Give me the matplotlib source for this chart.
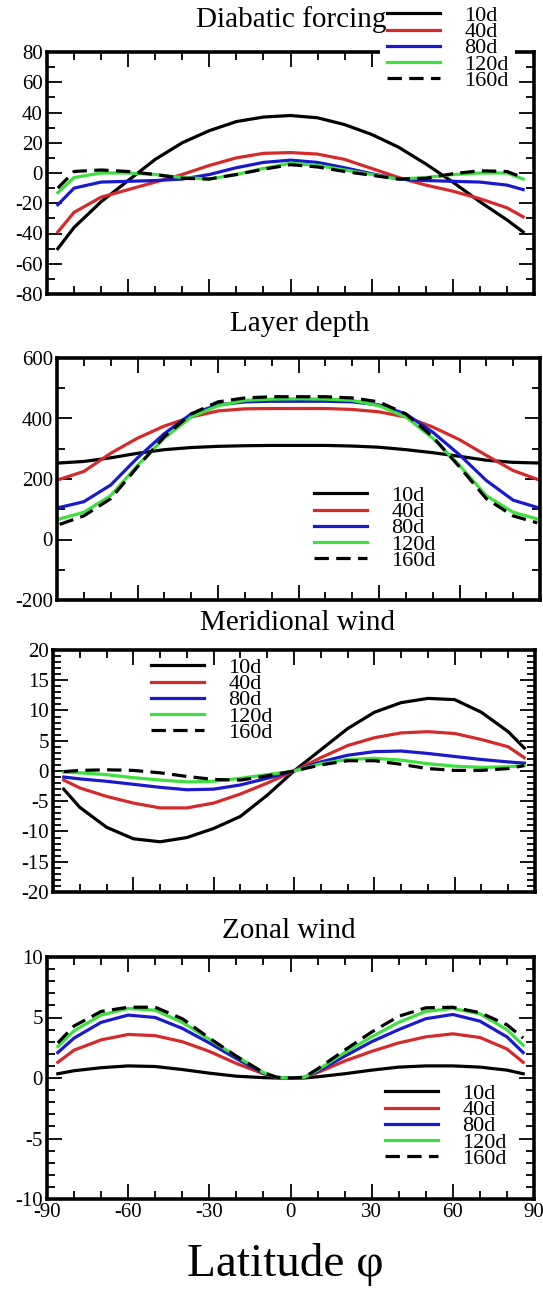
import numpy as np
import matplotlib
matplotlib.use("Agg")
import matplotlib.pyplot as plt
from matplotlib.ticker import MultipleLocator

plt.rcParams['font.family'] = ['Liberation Serif', 'DejaVu Serif']
plt.rcParams['axes.unicode_minus'] = False

W, H = 543, 1289

labels = ['10d', '40d', '80d', '120d', '160d']
colors = ['black', '#d42a2a', '#1a1acc', '#3ee03e', 'black']
styles = ['-', '-', '-', '-', '--']

lat = [-86, -80, -70, -60, -50, -40, -30, -20, -10, 0, 10, 20, 30, 40, 50, 60, 70, 80, 86]
lat_depth = [-89, -80, -70, -60, -50, -40, -30, -20, -10, 0, 10, 20, 30, 40, 50, 60, 70, 80, 89]
lat_zonal = [-86, -80, -70, -60, -50, -40, -30, -20, -10, -5, 0, 5, 10, 20, 30, 40, 50, 60, 70, 80, 86]

# Diabatic forcing
forcing_10 = [-50, -36, -19, -5, 9, 20, 28, 34, 37, 38, 36.5, 32, 25.5, 17, 6, -6, -19, -31, -39]
forcing_40 = [-39, -26, -16, -11, -6, -1, 5, 10, 13, 13.5, 12.5, 9, 3, -3, -8, -12, -17, -23, -29]
forcing_80 = [-21, -10, -6, -5.5, -5, -4, -1, 3.5, 7, 8.5, 7, 3.5, -0.5, -4, -5, -5.5, -6, -8, -11]
forcing_120 = [-13, -3, 0, 0, -1, -3, -4, -1, 3, 6.5, 5, 2, -1, -4, -3, -1, 0, 0, -4]
forcing_160 = [-10, 1, 2, 1, -1, -3.5, -4, -1, 2.5, 5.5, 4, 1, -1.5, -4, -3.5, -0.5, 1.5, 1, -3]

# Layer depth
depth_10 = [253, 258, 270, 285, 297, 304, 308, 310, 311, 311, 311, 309, 305, 297, 287, 275, 262, 255, 253]
depth_40 = [199, 225, 285, 335, 375, 405, 425, 432, 433, 433, 433, 430, 422, 405, 372, 330, 278, 228, 199]
depth_80 = [106, 125, 180, 270, 350, 415, 445, 455, 457, 457, 457, 455, 445, 415, 355, 280, 195, 130, 106]
depth_120 = [68, 90, 145, 245, 335, 405, 442, 460, 464, 465, 464, 460, 442, 405, 335, 245, 145, 90, 68]
depth_160 = [50, 78, 135, 240, 340, 415, 455, 468, 472, 472, 472, 468, 455, 415, 340, 240, 135, 78, 55]

# Meridional wind
merid_10 = [-3, -6, -9.3, -11.2, -11.7, -11, -9.5, -7.5, -4, 0, 3.5, 7, 9.7, 11.3, 12, 11.8, 9.7, 6.5, 3.8]
merid_40 = [-1.5, -2.8, -4.2, -5.3, -6.1, -6.1, -5.3, -3.8, -2, 0, 2.2, 4.2, 5.5, 6.3, 6.5, 6.2, 5.2, 4, 2.2]
merid_80 = [-1, -1.3, -1.7, -2.2, -2.7, -3.1, -3, -2.3, -1.2, 0, 1.5, 2.6, 3.2, 3.3, 2.9, 2.4, 1.9, 1.5, 1.3]
merid_120 = [-0.2, -0.3, -0.6, -1.1, -1.5, -1.8, -1.7, -1.2, -0.6, 0, 1.2, 1.9, 2.1, 1.8, 1.2, 0.8, 0.6, 0.7, 0.9]
merid_160 = [-0.1, 0.1, 0.2, 0.1, -0.3, -0.9, -1.4, -1.5, -0.8, 0, 1, 1.7, 1.7, 1.1, 0.4, 0.1, 0.1, 0.4, 0.9]

# Zonal wind
zonal_10 = [0.35, 0.6, 0.85, 1.0, 0.95, 0.7, 0.4, 0.15, 0.03, 0, 0, 0, 0.1, 0.35, 0.65, 0.9, 1.0, 1.0, 0.9, 0.65, 0.35]
zonal_40 = [1.3, 2.3, 3.15, 3.6, 3.5, 3.0, 2.2, 1.2, 0.35, 0.05, 0, 0.05, 0.45, 1.4, 2.2, 2.9, 3.4, 3.65, 3.35, 2.4, 1.3]
zonal_80 = [2.1, 3.3, 4.6, 5.2, 5.0, 4.1, 2.9, 1.6, 0.4, 0.05, 0, 0.05, 0.55, 1.8, 3.0, 4.0, 4.9, 5.25, 4.7, 3.4, 2.1]
zonal_120 = [2.6, 3.9, 5.2, 5.75, 5.6, 4.6, 3.2, 1.8, 0.45, 0.05, 0, 0.05, 0.65, 2.1, 3.4, 4.6, 5.5, 5.75, 5.3, 4.0, 2.7]
zonal_160 = [2.9, 4.3, 5.5, 5.85, 5.85, 4.9, 3.3, 1.8, 0.45, 0.05, 0, 0.05, 0.75, 2.3, 3.8, 5.1, 5.8, 5.85, 5.4, 4.4, 3.3]

panels = [
    dict(title='Diabatic forcing', x=lat, series=[forcing_10, forcing_40, forcing_80, forcing_120, forcing_160],
         ylim=(-80, 80), major=20, minor=10, box=(47, 52, 534, 294), title_xy=(291, 20),
         leg_xy=(380, -1), leg_bg=True),
    dict(title='Layer depth', x=lat_depth, series=[depth_10, depth_40, depth_80, depth_120, depth_160],
         ylim=(-200, 600), major=200, minor=100, box=(57, 358, 540, 600), title_xy=(300, 324),
         leg_xy=(307, 479), leg_bg=False),
    dict(title='Meridional wind', x=lat, series=[merid_10, merid_40, merid_80, merid_120, merid_160],
         ylim=(-20, 20), major=5, minor=1, box=(53, 650, 535, 892), title_xy=(298, 623),
         leg_xy=(144, 651), leg_bg=False),
    dict(title='Zonal wind', x=lat_zonal, series=[zonal_10, zonal_40, zonal_80, zonal_120, zonal_160],
         ylim=(-10, 10), major=5, minor=1, box=(47, 957, 534, 1199), title_xy=(289, 931),
         leg_xy=(378, 1077), leg_bg=False),
]

fig = plt.figure(figsize=(W / 100, H / 100), dpi=100)

for i, p in enumerate(panels):
    l, t, r, b = p['box']
    ax = fig.add_axes([l / W, 1 - b / H, (r - l) / W, (b - t) / H])
    for ys, lab, c, ls in zip(p['series'], labels, colors, styles):
        line, = ax.plot(p['x'], ys, color=c, lw=2.3, ls=ls, label=lab)
        if ls == '--':
            line.set_dashes((4.5, 2.3))
    ax.set_xlim(-90, 90)
    ax.set_ylim(*p['ylim'])
    ax.xaxis.set_major_locator(MultipleLocator(30))
    ax.xaxis.set_minor_locator(MultipleLocator(10))
    ax.yaxis.set_major_locator(MultipleLocator(p['major']))
    ax.yaxis.set_minor_locator(MultipleLocator(p['minor']))
    ax.tick_params(which='both', direction='in', top=True, right=True, labelsize=15, pad=3)
    ax.tick_params(which='major', length=11, width=1.3)
    ax.tick_params(which='minor', length=5.5, width=1.3)
    if i < 3:
        ax.tick_params(labelbottom=False)
    for s in ax.spines.values():
        s.set_linewidth(2.6)
    fig.text(p['title_xy'][0] / W, 1 - p['title_xy'][1] / H, p['title'], fontsize=21,
             ha='center', va='center')
    lx, ly = p['leg_xy']
    leg = ax.legend(loc='upper left', bbox_to_anchor=(lx / W, 1 - ly / H), bbox_transform=fig.transFigure,
                    fontsize=16, frameon=p['leg_bg'], fancybox=False, borderaxespad=0, borderpad=0.3,
                    labelspacing=-0.2, handlelength=2.4, handletextpad=1.1)
    if p['leg_bg']:
        leg.get_frame().set_edgecolor('none')
        leg.get_frame().set_facecolor('white')
        leg.get_frame().set_alpha(1)
    leg.set_zorder(10)

fig.text(285 / W, 1 - 1265 / H, 'Latitude φ', fontsize=34, ha='center', va='center')

fig.savefig('out.png', dpi=100)
